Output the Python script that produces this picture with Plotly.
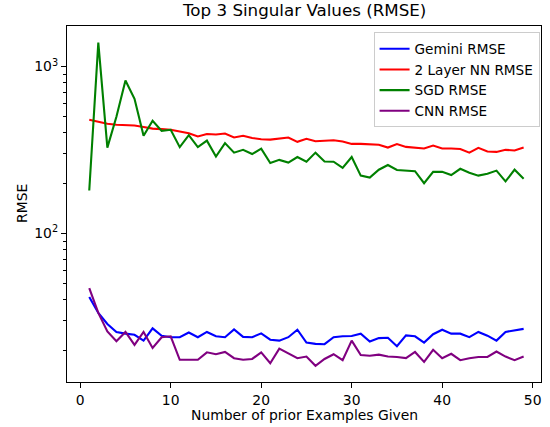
import plotly.graph_objects as go

examples = list(range(1, 50))

gemini_rmse = [41.6, 33.4, 28.7, 25.7, 25.1, 24.7, 22.8, 27.0, 24.4, 23.9,
               23.9, 25.5, 23.9, 25.7, 24.2, 23.9, 26.6, 24.0, 23.9, 25.2,
               23.1, 22.8, 23.9, 26.5, 22.2, 21.8, 21.7, 23.9, 24.2, 24.3,
               25.1, 22.5, 23.6, 23.7, 21.1, 24.5, 24.2, 22.2, 24.9, 26.5,
               25.1, 25.1, 23.9, 25.7, 24.4, 22.8, 25.7, 26.2, 26.8]

nn2_rmse = [480, 466, 454, 448, 446, 443, 434, 425, 422, 418,
            408, 399, 381, 394, 392, 397, 376, 385, 373, 367,
            365, 369, 376, 354, 369, 357, 359, 362, 356, 344,
            344, 341, 340, 327, 343, 330, 325, 323, 336, 323,
            323, 321, 305, 326, 310, 308, 317, 314, 327]

sgd_rmse = [181, 1392, 327, 500, 824, 641, 385, 473, 412, 418,
            329, 388, 329, 360, 289, 348, 305, 317, 299, 322,
            264, 276, 266, 287, 269, 305, 270, 269, 247, 287,
            222, 216, 241, 257, 240, 238, 236, 200, 234, 234,
            224, 244, 231, 222, 228, 238, 205, 241, 213]

cnn_rmse = [47.1, 33.4, 25.9, 22.6, 25.7, 21.5, 25.7, 20.6, 23.9, 24.2,
            17.5, 17.5, 17.5, 19.4, 18.9, 19.5, 17.9, 17.5, 17.7, 19.4,
            16.7, 20.4, 19.0, 17.9, 18.3, 16.1, 17.7, 18.9, 17.4, 22.8,
            18.7, 18.5, 18.8, 18.3, 18.2, 17.9, 19.5, 17.0, 20.1, 17.9,
            19.0, 17.4, 17.9, 18.2, 18.2, 19.6, 18.3, 17.4, 18.3]

series_names = ["Gemini RMSE", "2 Layer NN RMSE", "SGD RMSE", "CNN RMSE"]
series_colors = ["blue", "red", "green", "purple"]

x_ticks = [0, 10, 20, 30, 40, 50]
y_ticks = [100, 1000]
y_ticktext = ["10<sup>2</sup>", "10<sup>3</sup>"]
y_minor = [v * m for m in (10, 100) for v in range(2, 10)]

FONT = "DejaVu Sans"
FS = 13.9

fig = go.Figure()
for name, vals, col in zip(series_names, [gemini_rmse, nn2_rmse, sgd_rmse, cnn_rmse], series_colors):
    fig.add_trace(go.Scatter(x=examples, y=vals, mode="lines", name=name,
                             line=dict(color=col, width=2.1)))

fig.update_layout(
    width=550, height=427,
    margin=dict(l=67, r=9, t=26, b=45),
    paper_bgcolor="white", plot_bgcolor="white",
    font=dict(family=FONT, size=FS, color="black"),
    showlegend=True,
    legend=dict(x=0.997, y=0.982, xanchor="right", yanchor="top",
                bgcolor="rgba(255,255,255,0.8)", bordercolor="#cccccc", borderwidth=1,
                font=dict(family=FONT, size=13.6, color="black"),
                tracegroupgap=0),
    annotations=[
        dict(text="Top 3 Singular Values (RMSE)", xref="paper", yref="paper",
             x=0.5, y=1, yshift=4, xanchor="center", yanchor="bottom", showarrow=False,
             font=dict(family=FONT, size=16.7, color="black")),
        dict(text="Number of prior Examples Given", xref="paper", yref="paper",
             x=0.5, y=0, yshift=-23, xanchor="center", yanchor="top", showarrow=False,
             font=dict(family=FONT, size=FS, color="black")),
        dict(text="RMSE", xref="paper", yref="paper", textangle=-90,
             x=0, y=0.5, xshift=-45, xanchor="center", yanchor="middle", showarrow=False,
             font=dict(family=FONT, size=FS, color="black")),
    ],
)

fig.update_xaxes(range=[-1.46, 50.92], tickmode="array", tickvals=x_ticks,
                 ticks="outside", ticklen=5, tickwidth=1.1, tickcolor="black",
                 showline=True, linecolor="black", linewidth=1.1, mirror=True,
                 showgrid=False, zeroline=False,
                 tickfont=dict(family=FONT, size=FS, color="black"))

fig.update_yaxes(type="log", range=[1.110, 3.243], tickmode="array",
                 tickvals=y_ticks, ticktext=y_ticktext,
                 ticks="outside", ticklen=5, tickwidth=1.1, tickcolor="black",
                 minor=dict(tickmode="array", tickvals=y_minor, ticks="outside",
                            ticklen=3, tickwidth=0.8, tickcolor="black", showgrid=False),
                 showline=True, linecolor="black", linewidth=1.1, mirror=True,
                 showgrid=False, zeroline=False,
                 tickfont=dict(family=FONT, size=FS, color="black"))

fig.write_html("out.html", config={"displayModeBar": False},
               post_script="document.body.style.margin='0';")
